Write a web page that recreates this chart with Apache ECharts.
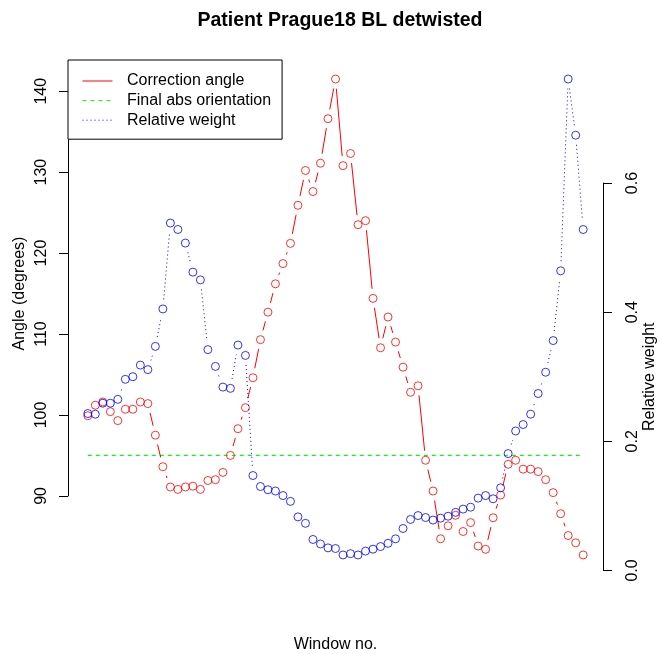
<!DOCTYPE html>
<html>
<head>
<meta charset="utf-8">
<script src="https://cdn.jsdelivr.net/npm/echarts@6/dist/echarts.min.js"></script>
<style>html,body{margin:0;padding:0;background:#fff}#c{width:662px;height:654px}</style>
</head>
<body>
<div id="c"></div>
<script>
// ---- data ----
const windowNo = [1,2,3,4,5,6,7,8,9,10,11,12,13,14,15,16,17,18,19,20,21,22,23,24,25,26,27,28,29,30,31,32,33,34,35,36,37,38,39,40,41,42,43,44,45,46,47,48,49,50,51,52,53,54,55,56,57,58,59,60,61,62,63,64,65,66,67];
const correctionAngle = [
  99.9, 101.2, 101.6, 100.4, 99.3, 100.7, 100.7, 101.6, 101.4, 97.5,
  93.6, 91.1, 90.8, 91.1, 91.2, 90.8, 91.9, 92.0, 92.9, 95.0,
  98.3, 100.9, 104.6, 109.3, 112.7, 116.2, 118.7, 121.2, 125.9, 130.2,
  127.6, 131.1, 136.6, 141.5, 130.8, 132.3, 123.5, 124.0, 114.4, 108.3,
  112.1, 109.0, 105.9, 102.8, 103.6, 94.4, 90.6, 84.7, 86.3, 87.6,
  85.6, 86.7, 83.8, 83.4, 87.3, 90.1, 93.9, 94.4, 93.3, 93.3,
  93.0, 92.0, 90.4, 87.8, 85.1, 84.2, 82.7];
const relativeWeight = [
  0.243, 0.242, 0.259, 0.259, 0.265, 0.296, 0.300, 0.318, 0.311, 0.347,
  0.405, 0.538, 0.528, 0.507, 0.462, 0.450, 0.342, 0.316, 0.284, 0.282,
  0.349, 0.333, 0.147, 0.130, 0.125, 0.123, 0.116, 0.107, 0.083, 0.073,
  0.048, 0.041, 0.035, 0.034, 0.024, 0.026, 0.024, 0.030, 0.033, 0.037,
  0.042, 0.049, 0.065, 0.079, 0.085, 0.082, 0.078, 0.081, 0.084, 0.090,
  0.095, 0.098, 0.112, 0.116, 0.111, 0.128, 0.181, 0.216, 0.226, 0.242,
  0.274, 0.307, 0.356, 0.464, 0.761, 0.674, 0.528];
const finalAbsOrientation = 95;
const angleTicks = [90, 100, 110, 120, 130, 140];
const weightTicks = [0.0, 0.2, 0.4, 0.6];
const seriesNames = ['Correction angle', 'Final abs orientation', 'Relative weight'];

// ---- layout / style ----
const FONT = 'Liberation Sans, Arial, Helvetica, sans-serif';
const PLOT = {left: 68, top: 60, width: 535, height: 514};
const GAP = 9.6;       // R type="b" gap around points
const SYM = 8;         // circle diameter

function rlim(a) { const mn = Math.min(...a), mx = Math.max(...a), r = mx - mn; return [mn - 0.04 * r, mx + 0.04 * r]; }
const xLim = rlim(windowNo), aLim = rlim(correctionAngle), wLim = rlim(relativeWeight);
function yPix(lim, v) { return PLOT.top + (lim[1] - v) / (lim[1] - lim[0]) * PLOT.height; }

const aTop = yPix(aLim, angleTicks[angleTicks.length - 1]);
const aBot = yPix(aLim, angleTicks[0]);
const wTop = yPix(wLim, weightTicks[weightTicks.length - 1]);
const wBot = yPix(wLim, weightTicks[0]);

function segs(vals) {
  const out = [];
  for (let i = 0; i + 1 < windowNo.length; i++) out.push([windowNo[i], vals[i], windowNo[i + 1], vals[i + 1]]);
  return out;
}
function segRender(color, dash) {
  return function (params, api) {
    const p0 = api.coord([api.value(0), api.value(1)]);
    const p1 = api.coord([api.value(2), api.value(3)]);
    const dx = p1[0] - p0[0], dy = p1[1] - p0[1], L = Math.hypot(dx, dy);
    if (L <= 2 * GAP) return {type: 'group', children: []};
    const f = GAP / L;
    return {
      type: 'line',
      shape: {x1: p0[0] + dx * f, y1: p0[1] + dy * f, x2: p1[0] - dx * f, y2: p1[1] - dy * f},
      style: {stroke: color, lineWidth: 1, lineDash: dash, fill: null}
    };
  };
}
function hlineRender(params, api) {
  const p0 = api.coord([api.value(0), api.value(1)]);
  const p1 = api.coord([api.value(2), api.value(3)]);
  return {
    type: 'line',
    shape: {x1: p0[0], y1: p0[1], x2: p1[0], y2: p1[1]},
    style: {stroke: '#00ff00', lineWidth: 1.2, lineDash: [4, 4], fill: null}
  };
}
const axisCommon = {
  axisLine: {show: true, onZero: false, lineStyle: {color: '#000', width: 1}},
  axisTick: {show: true, inside: false, length: 9, lineStyle: {color: '#000', width: 1}},
  splitLine: {show: false},
  axisLabel: {rotate: 90, color: '#000', fontSize: 16, fontFamily: FONT},
  nameLocation: 'middle', nameRotate: 90, nameMoveOverlap: false,
  nameTextStyle: {color: '#000', fontSize: 16, fontFamily: FONT}
};
const gridCommon = {show: false, containLabel: false, outerBoundsMode: 'none'};

const chart = echarts.init(document.getElementById('c'), null, {renderer: 'canvas'});
chart.setOption({
  animation: false,
  backgroundColor: '#fff',
  title: [
    {text: 'Patient Prague18 BL detwisted', left: 340, top: 11, textAlign: 'center', padding: 0,
     textStyle: {fontSize: 19.5, fontWeight: 'bold', color: '#000', fontFamily: FONT}},
    {text: 'Window no.', left: PLOT.left + PLOT.width / 2, top: 637, textAlign: 'center', padding: 0,
     textStyle: {fontSize: 16, fontWeight: 'normal', color: '#000', fontFamily: FONT}}
  ],
  legend: {
    data: seriesNames, orient: 'vertical', left: PLOT.left, top: PLOT.top,
    padding: [13, 11, 11, 14], itemWidth: 30, itemHeight: 16, itemGap: 3.6,
    borderColor: '#000', borderWidth: 1, borderRadius: 0, backgroundColor: '#fff',
    itemStyle: {opacity: 0}, lineStyle: {width: 1}, selectedMode: false,
    textStyle: {fontSize: 16, fontFamily: FONT, color: '#000', lineHeight: 16, padding: [0, 0, 0, 9.5]}
  },
  grid: [
    Object.assign({}, gridCommon, {left: PLOT.left, top: PLOT.top, width: PLOT.width, height: PLOT.height}),
    Object.assign({}, gridCommon, {left: PLOT.left, top: aTop, width: PLOT.width, height: aBot - aTop}),
    Object.assign({}, gridCommon, {left: PLOT.left, top: wTop, width: PLOT.width, height: wBot - wTop})
  ],
  xAxis: [
    {gridIndex: 0, type: 'value', min: xLim[0], max: xLim[1], show: false},
    {gridIndex: 1, type: 'value', min: 0, max: 1, show: false},
    {gridIndex: 2, type: 'value', min: 0, max: 1, show: false}
  ],
  yAxis: [
    {gridIndex: 0, type: 'value', min: aLim[0], max: aLim[1], show: false},
    {gridIndex: 0, type: 'value', min: wLim[0], max: wLim[1], show: false, position: 'right'},
    Object.assign({}, axisCommon, {
      gridIndex: 1, type: 'value', position: 'left',
      min: angleTicks[0], max: angleTicks[angleTicks.length - 1], interval: angleTicks[1] - angleTicks[0],
      axisLabel: Object.assign({}, axisCommon.axisLabel, {margin: 18}),
      name: 'Angle (degrees)', nameGap: 40
    }),
    Object.assign({}, axisCommon, {
      gridIndex: 2, type: 'value', position: 'right',
      min: weightTicks[0], max: weightTicks[weightTicks.length - 1], interval: weightTicks[1] - weightTicks[0],
      axisLabel: Object.assign({}, axisCommon.axisLabel, {margin: 22, formatter: v => v.toFixed(1)}),
      name: 'Relative weight', nameGap: 39
    })
  ],
  series: [
    {name: seriesNames[0], type: 'line', xAxisIndex: 0, yAxisIndex: 0, data: [], symbol: 'none',
     lineStyle: {color: '#ff0000', width: 1, type: 'solid'}, itemStyle: {color: '#ff0000'}},
    {name: seriesNames[1], type: 'line', xAxisIndex: 0, yAxisIndex: 0, data: [], symbol: 'none',
     lineStyle: {color: '#00ff00', width: 1, type: [4, 4]}, itemStyle: {color: '#00ff00'}},
    {name: seriesNames[2], type: 'line', xAxisIndex: 0, yAxisIndex: 1, data: [], symbol: 'none',
     lineStyle: {color: '#0000ff', width: 1, type: [1, 3]}, itemStyle: {color: '#0000ff'}},
    {name: 'orientation-line', type: 'custom', xAxisIndex: 0, yAxisIndex: 0, silent: true, z: 1,
     data: [[windowNo[0], finalAbsOrientation, windowNo[windowNo.length - 1], finalAbsOrientation]],
     encode: {x: [0, 2], y: [1, 3]}, renderItem: hlineRender},
    {name: 'angle-seg', type: 'custom', xAxisIndex: 0, yAxisIndex: 0, silent: true, z: 2,
     data: segs(correctionAngle), encode: {x: [0, 2], y: [1, 3]},
     renderItem: segRender('#ff0000', null)},
    {name: 'angle-pts', type: 'scatter', xAxisIndex: 0, yAxisIndex: 0, silent: true, z: 3,
     data: windowNo.map((w, i) => [w, correctionAngle[i]]), symbol: 'circle', symbolSize: SYM,
     itemStyle: {color: 'rgba(0,0,0,0)', borderColor: '#ff0000', borderWidth: 1}},
    {name: 'weight-seg', type: 'custom', xAxisIndex: 0, yAxisIndex: 1, silent: true, z: 4,
     data: segs(relativeWeight), encode: {x: [0, 2], y: [1, 3]},
     renderItem: segRender('#0000ff', [1, 3])},
    {name: 'weight-pts', type: 'scatter', xAxisIndex: 0, yAxisIndex: 1, silent: true, z: 5,
     data: windowNo.map((w, i) => [w, relativeWeight[i]]), symbol: 'circle', symbolSize: SYM,
     itemStyle: {color: 'rgba(0,0,0,0)', borderColor: '#0000ff', borderWidth: 1}}
  ]
});
</script>
</body>
</html>
